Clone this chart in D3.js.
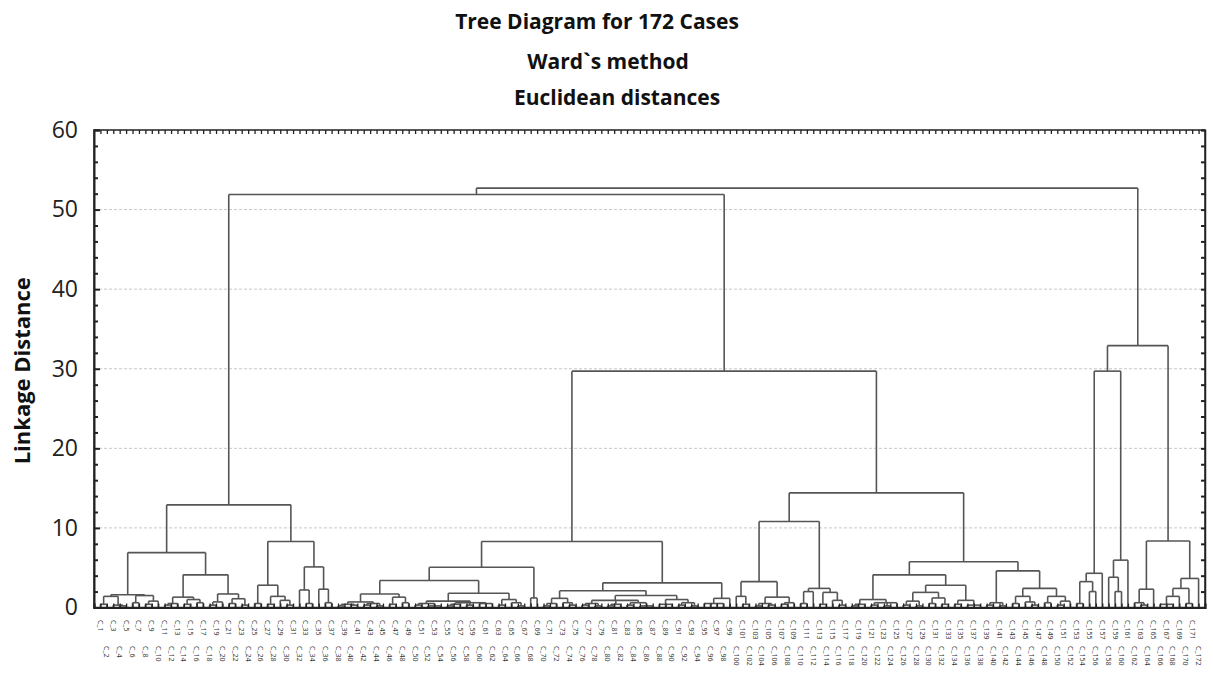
<!DOCTYPE html>
<html>
<head>
<meta charset="utf-8">
<script src="https://cdn.jsdelivr.net/npm/d3@7"></script>
<style>
  html, body { margin: 0; padding: 0; background: #fff; }
  svg { display: block; font-family: "Open Sans", sans-serif; }
</style>
</head>
<body>
<div id="chart"></div>
<script>
// Tree diagram for 172 cases, Ward's method, Euclidean distances.
// A node is [linkage distance, ...children]; a bare `o` is one case.
const o = 0;

const titleLines = ["Tree Diagram for 172 Cases", "Ward`s method", "Euclidean distances"];
const yAxisTitle = "Linkage Distance";
const yTicks = [0, 10, 20, 30, 40, 50, 60];
const yGrid = [10, 20, 30, 40, 50];
const yMinor = [2, 4, 6, 8, 12, 14, 16, 18, 22, 24, 26, 28, 32, 34, 36, 38, 42, 44, 46, 48, 52, 54, 56, 58];

// left group (cases 1-37)
const clusterA = [12.9,
  [6.9,
    [1.6, [1.4, [0.4, o, o], [0.3, o, [0.2, o, o]]], [1.5, [0.6, o, o], [0.8, [0.4, o, o], o]]],
    [4.1,
      [1.3, [0.5, [0.3, o, o], o], [1.0, [0.4, o, o], [0.6, o, o]]],
      [1.7, [0.7, [0.3, o, o], o], [1.1, [0.5, o, o], [0.3, o, o]]]]],
  [8.3,
    [2.8, [0.5, o, o], [1.4, [0.4, o, o], [0.9, o, [0.3, o, o]]]],
    [5.1, [2.2, o, [0.5, o, o]], [2.3, o, [0.6, o, o]]]]];

// centre-left group
const clusterB1 = [8.3,
  [5.05,
    [3.4,
      [1.7, [0.7, [0.4, [0.2, o, o], [0.3, o, o]], [0.5, [0.3, o, o], [0.2, o, o]]],
            [1.3, [0.4, o, o], [0.6, o, o]]],
      [1.8, [0.8, [0.5, [0.3, o, o], [0.2, o, o, o]], [0.6, [0.4, [0.2, o, o], o], [0.3, o, o], [0.5, o, o, o]]],
            [1.0, [0.3, o, o], [0.6, o, [0.2, o, o]]]]],
    [1.2, o, o]],
  [3.1,
    [2.1,
      [1.15, [0.5, [0.2, o, o], o], [0.6, o, [0.3, o, o]]],
      [1.5, [0.9, [0.5, [0.3, o, o], [0.2, o, o]], [0.4, [0.2, o, o], o], [0.6, [0.3, o, o], [0.2, o, o, o]]],
            [1.0, [0.4, o, o, o], [0.6, [0.3, o, o], [0.2, o, o]]]]],
    [1.15, [0.5, o, o, o, o], o]]];

// centre-right group
const clusterB2 = [14.4,
  [10.8,
    [3.25, [1.4, o, [0.4, o, o]], [1.3, [0.5, [0.2, o, o], [0.3, o, o]], [0.6, [0.4, o, o], o]]],
    [2.4, [2.0, [0.5, o, o], o], [1.9, [0.4, o, o], [0.9, o, [0.3, o, o]]]]],
  [5.75,
    [4.1,
      [1.0, [0.4, [0.2, o, o], o], [0.6, [0.3, o, o], [0.2, o, o], o]],
      [2.8, [1.9, [0.8, [0.3, o, o], [0.2, o, o]], [1.2, [0.5, o, o], [0.4, o, o]]],
            [0.9, [0.4, o, o], [0.3, o, o, o]]]],
    [4.6,
      [0.6, [0.3, o, o], [0.2, o, o]],
      [2.4, [1.4, [0.5, o, o], [0.7, o, [0.3, o, o]]], [1.4, [0.6, o, o], [0.8, [0.3, o, o], o]]]]]];

// right group (last 20 cases)
const clusterR = [32.9,
  [29.7,
    [4.3, [3.25, [0.5, o, o], [2.0, o, o]], o],
    [5.95, [3.8, o, [2.0, o, o]], o]],
  [8.35,
    [2.3, [0.6, o, [0.3, o, o]], o],
    [3.65, [2.4, [1.4, [0.4, o, o, o], o], [0.5, o, o]], o]]];

const joinHeights = [52.7, 51.9, 29.7];   // root, left branch, centre branch
const tree = [joinHeights[0], [joinHeights[1], clusterA, [joinHeights[2], clusterB1, clusterB2]], clusterR];

const W = 1213, H = 677;
const plot = { left: 94, right: 1205, top: 130, bottom: 607.5 };

function toNode(n) {
  return Array.isArray(n) ? { h: n[0], children: n.slice(1).map(toNode) } : { h: 0 };
}

const root = d3.hierarchy(toNode(tree));
const nLeaves = root.leaves().length;
d3.cluster().size([nLeaves, 1]).separation(() => 1)(root);

const x = d3.scaleLinear().domain([-0.5, nLeaves + 0.5]).range([plot.left, plot.right]);
const y = d3.scaleLinear().domain([0, 60]).range([plot.bottom, plot.top]);

const svg = d3.select("#chart").append("svg")
  .attr("width", W).attr("height", H);

// titles
const titleY = [29, 69, 105];
const titleX = [597, 608, 617];
svg.selectAll("text.title").data(titleLines).join("text")
  .attr("class", "title")
  .attr("x", (d, i) => titleX[i]).attr("y", (d, i) => titleY[i])
  .attr("text-anchor", "middle")
  .attr("font-size", "21px").attr("font-weight", 700)
  .attr("fill", "#111")
  .text(d => d);

// grid
svg.append("g").selectAll("line").data(yGrid).join("line")
  .attr("x1", plot.left).attr("x2", plot.right)
  .attr("y1", d => y(d)).attr("y2", d => y(d))
  .attr("stroke", "#c8c8c8").attr("stroke-width", 1).attr("stroke-dasharray", "3,2");

// dendrogram
const g = svg.append("g").attr("fill", "none").attr("stroke", "#555").attr("stroke-width", 1.6);
root.descendants().filter(d => d.children).forEach(d => {
  const xs = d.children.map(c => c.x);
  g.append("line")
    .attr("x1", x(d3.min(xs))).attr("x2", x(d3.max(xs)))
    .attr("y1", y(d.data.h)).attr("y2", y(d.data.h));
  d.children.forEach(c => {
    g.append("line")
      .attr("x1", x(c.x)).attr("x2", x(c.x))
      .attr("y1", y(c.data.h)).attr("y2", y(d.data.h));
  });
});

// frame
svg.append("rect")
  .attr("x", plot.left).attr("y", plot.top)
  .attr("width", plot.right - plot.left).attr("height", plot.bottom - plot.top)
  .attr("fill", "none").attr("stroke", "#222").attr("stroke-width", 1.5);

const leafX = root.leaves().map(d => d.x);

// top / bottom ticks at each case
svg.append("g").attr("transform", `translate(0,${plot.top})`)
  .call(d3.axisTop(x).tickValues(leafX).tickSize(-4).tickFormat(""))
  .call(a => a.select(".domain").remove())
  .selectAll("line").attr("stroke", "#222").attr("stroke-width", 1.3);
svg.append("g").attr("transform", `translate(0,${plot.bottom})`)
  .call(d3.axisBottom(x).tickValues(leafX).tickSize(-4).tickFormat(""))
  .call(a => a.select(".domain").attr("stroke", "#222").attr("stroke-width", 2.2))
  .selectAll("line").attr("stroke", "#222").attr("stroke-width", 1.3);

// left axis
const yLeft = svg.append("g").attr("transform", `translate(${plot.left},0)`);
yLeft.call(d3.axisLeft(y).tickValues(yTicks).tickSize(-6).tickPadding(16).tickFormat(d3.format("d")))
  .call(a => a.select(".domain").attr("stroke", "#222").attr("stroke-width", 2))
  .call(a => a.selectAll("line").attr("stroke", "#222").attr("stroke-width", 2))
  .call(a => a.selectAll("text").attr("font-size", "23px").attr("fill", "#222")
    .attr("font-family", "Open Sans, sans-serif"));
svg.append("g").attr("transform", `translate(${plot.left},0)`)
  .call(d3.axisLeft(y).tickValues(yMinor).tickSize(-4).tickFormat(""))
  .call(a => a.select(".domain").remove())
  .selectAll("line").attr("stroke", "#222").attr("stroke-width", 2);

// right axis
svg.append("g").attr("transform", `translate(${plot.right},0)`)
  .call(d3.axisRight(y).tickValues(yTicks.concat(yMinor)).tickSize(-4).tickFormat(""))
  .call(a => a.select(".domain").attr("stroke", "#222").attr("stroke-width", 1.5))
  .selectAll("line").attr("stroke", "#222").attr("stroke-width", 2);

// y axis title
svg.append("text")
  .attr("transform", `translate(30,${(plot.top + plot.bottom) / 2 + 2}) rotate(-90)`)
  .attr("text-anchor", "middle")
  .attr("font-size", "22px").attr("font-weight", 700).attr("fill", "#111")
  .text(yAxisTitle);

// case labels (rotated, staggered)
svg.append("g").selectAll("text").data(root.leaves()).join("text")
  .attr("transform", (d, i) => `translate(${x(d.x) - 2.5},${620 + (i % 2) * 26}) rotate(90)`)
  .attr("font-size", "7px").attr("fill", "#333")
  .text((d, i) => "C_" + (i + 1));
</script>
</body>
</html>
